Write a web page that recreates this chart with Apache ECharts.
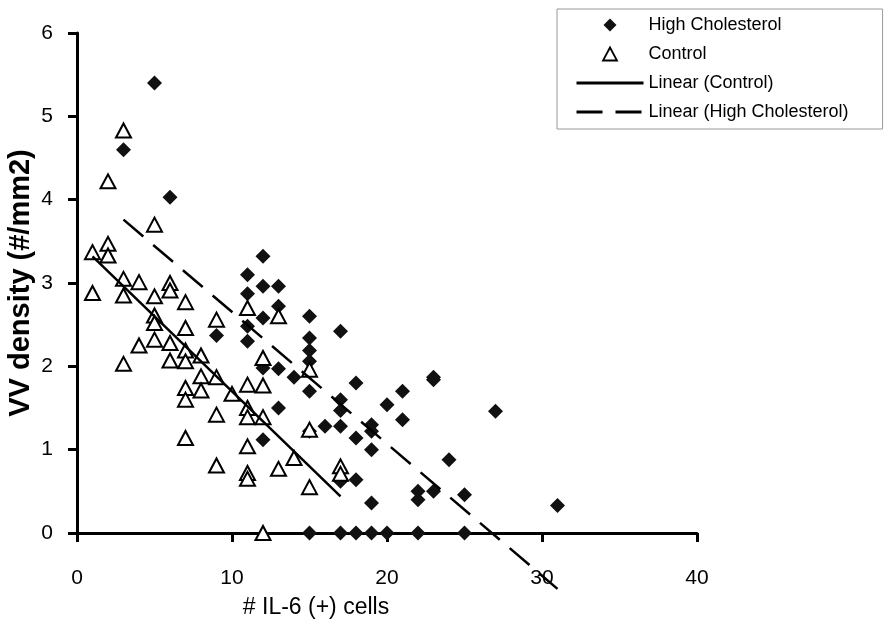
<!DOCTYPE html>
<html>
<head>
<meta charset="utf-8">
<script src="https://cdn.jsdelivr.net/npm/echarts@6/dist/echarts.min.js"></script>
<style>
  html, body { margin: 0; padding: 0; background: #fff; }
  #chart { width: 884px; height: 628px; }
</style>
</head>
<body>
<div id="chart"></div>
<script>
// ======================================================================
// DATA : IL-6 (+) cells vs VV density

var highCholesterol = [
  [3, 4.6], [5, 5.4], [6, 4.03], [9, 2.37],
  [11, 3.1], [11, 2.87], [11, 2.48], [11, 2.3],
  [12, 3.32], [12, 2.96], [12, 2.58], [12, 1.98], [12, 1.12],
  [13, 2.96], [13, 2.72], [13, 1.97], [13, 1.5],
  [14, 1.87],
  [15, 2.6], [15, 2.34], [15, 2.19], [15, 2.06], [15, 1.7], [15, 1.22], [15, 0],
  [16, 1.28],
  [17, 2.42], [17, 1.6], [17, 1.47], [17, 1.28], [17, 0.62], [17, 0],
  [18, 1.8], [18, 1.14], [18, 0.64], [18, 0],
  [19, 1.3], [19, 1.22], [19, 1.0], [19, 0.36], [19, 0],
  [20, 1.54], [20, 0],
  [21, 1.7], [21, 1.36],
  [22, 0.5], [22, 0.4], [22, 0],
  [23, 1.87], [23, 1.84], [23, 0.5],
  [24, 0.88],
  [25, 0.46], [25, 0],
  [27, 1.46],
  [31, 0.33]
];

var control = [
  [1, 3.37], [1, 2.88],
  [2, 4.22], [2, 3.47], [2, 3.33],
  [3, 4.83], [3, 3.05], [3, 2.85], [3, 2.03],
  [4, 3.01], [4, 2.25],
  [5, 3.7], [5, 2.84], [5, 2.61], [5, 2.52], [5, 2.32],
  [6, 3.0], [6, 2.91], [6, 2.28], [6, 2.07],
  [7, 2.77], [7, 2.46], [7, 2.19], [7, 2.06], [7, 1.74], [7, 1.6], [7, 1.14],
  [8, 2.13], [8, 1.88], [8, 1.71],
  [9, 2.56], [9, 1.87], [9, 1.42], [9, 0.81],
  [10, 1.67],
  [11, 2.7], [11, 1.78], [11, 1.5], [11, 1.39], [11, 1.04], [11, 0.72], [11, 0.65],
  [12, 2.1], [12, 1.77], [12, 1.39], [12, 0],
  [13, 2.6], [13, 0.77],
  [14, 0.9],
  [15, 1.96], [15, 1.24], [15, 0.55],
  [17, 0.8], [17, 0.71]
];

// trend lines (end points)
var linearControl = [[1, 3.32], [17, 0.44]];
var linearHighChol = [[3, 3.76], [31, -0.67]];

var fontFamily = '"Liberation Sans", Arial, sans-serif';
var hiddenSymbol = {color: 'rgba(0,0,0,0)', borderWidth: 0, opacity: 0};
// path icons so the legend keeps their aspect
var diamondIcon = 'path://M7,0L14,7L7,14L0,7Z';
var triangleIcon = 'path://M7,0L14,13L0,13Z';

// ======================================================================
// GRAPHIQUE

var chart = echarts.init(document.getElementById('chart'), null, {renderer: 'canvas'});
var option = {
  animation: false,
  backgroundColor: '#fff',
  textStyle: {fontFamily: fontFamily, color: '#000'},
  grid: {left: 77, right: 187, top: 33, bottom: 95, outerBoundsMode: 'none', containLabel: false},
  legend: {
    orient: 'vertical',
    left: 557,
    top: 9,
    padding: [7, 34, 8, 18],
    itemWidth: 67,
    itemHeight: 13,
    itemGap: 11,
    symbolKeepAspect: true,
    borderColor: '#999',
    borderWidth: 1,
    textStyle: {fontFamily: fontFamily, fontSize: 18, color: '#000'},
    data: [
      {name: 'High Cholesterol', icon: diamondIcon, itemStyle: {color: '#111'}},
      {name: 'Control', icon: triangleIcon, itemStyle: {color: '#fff', borderColor: '#000', borderWidth: 1.8}},
      {name: 'Linear (Control)', itemStyle: hiddenSymbol, lineStyle: {width: 3}},
      {name: 'Linear (High Cholesterol)', itemStyle: hiddenSymbol, lineStyle: {width: 3}}
    ]
  },
  xAxis: {
    type: 'value',
    min: 0,
    max: 40,
    interval: 10,
    name: '# IL-6 (+) cells',
    nameLocation: 'middle',
    nameGap: 63,
    nameTextStyle: {fontFamily: fontFamily, fontSize: 23, color: '#000', padding: [0, 142, 0, 0]},
    axisLine: {onZero: false, lineStyle: {color: '#000', width: 3}},
    axisTick: {length: 9, lineStyle: {color: '#000', width: 3}},
    axisLabel: {fontFamily: fontFamily, fontSize: 21, color: '#000', margin: 35},
    splitLine: {show: false}
  },
  yAxis: {
    type: 'value',
    min: 0,
    max: 6,
    interval: 1,
    name: 'VV density (#/mm2)',
    nameLocation: 'middle',
    nameGap: 42,
    nameMoveOverlap: false,
    nameTextStyle: {fontFamily: fontFamily, fontSize: 29, fontWeight: 'bold', color: '#000'},
    axisLine: {onZero: false, lineStyle: {color: '#000', width: 3}},
    axisTick: {length: 9, lineStyle: {color: '#000', width: 3}},
    axisLabel: {fontFamily: fontFamily, fontSize: 21, color: '#000', margin: 24},
    splitLine: {show: false}
  },
  series: [
    {
      name: 'High Cholesterol',
      type: 'scatter',
      symbol: 'diamond',
      symbolSize: 15,
      clip: false,
      itemStyle: {color: '#111', opacity: 1},
      data: highCholesterol
    },
    {
      name: 'Control',
      type: 'scatter',
      symbol: 'triangle',
      symbolSize: [15, 14],
      clip: false,
      itemStyle: {color: '#fff', borderColor: '#000', borderWidth: 2, opacity: 1},
      data: control
    },
    {
      name: 'Linear (Control)',
      type: 'line',
      symbol: 'none',
      clip: false,
      lineStyle: {color: '#000', width: 2.5, type: 'solid'},
      itemStyle: {color: '#000'},
      data: linearControl
    },
    {
      name: 'Linear (High Cholesterol)',
      type: 'line',
      symbol: 'none',
      clip: false,
      lineStyle: {color: '#000', width: 2.5, type: [26, 13]},
      itemStyle: {color: '#000'},
      data: linearHighChol
    }
  ]
};
chart.setOption(option);
</script>
</body>
</html>
